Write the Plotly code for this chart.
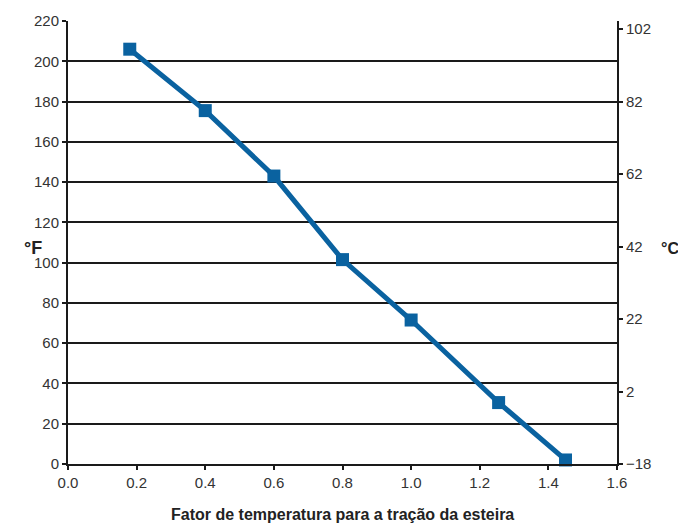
import plotly.graph_objects as go

# fator de temperatura vs temperatura (°F)
fator = [0.18, 0.40, 0.60, 0.80, 1.00, 1.255, 1.45]
temp_f = [206, 175.5, 143, 101.5, 71.5, 30.5, 2]

f_ticks = list(range(0, 221, 20))
c_ticks = [-18, 2, 22, 42, 62, 82, 102]
x_ticks = [0.0, 0.2, 0.4, 0.6, 0.8, 1.0, 1.2, 1.4, 1.6]

blue = '#0a62a0'
tick_font = dict(family='Liberation Sans, Arial, sans-serif', size=15, color='#333333')
narrow = 'Liberation Sans Narrow, Arial Narrow, sans-serif'

fig = go.Figure()
fig.add_trace(go.Scatter(
    x=fator, y=temp_f, mode='lines+markers',
    line=dict(color=blue, width=5),
    marker=dict(symbol='square', size=13, color=blue),
    showlegend=False, cliponaxis=False
))
# invisible trace to keep the °C axis alive
fig.add_trace(go.Scatter(x=[0], y=[0], yaxis='y2', mode='markers',
                         marker=dict(opacity=0), showlegend=False, hoverinfo='skip'))

fig.update_layout(
    width=678, height=526,
    margin=dict(l=68, r=61, t=18, b=62),
    paper_bgcolor='white', plot_bgcolor='white',
    xaxis=dict(range=[0, 1.6], tickvals=x_ticks, tickformat='.1f',
               showgrid=False, zeroline=False,
               showline=True, linecolor='#1a1a1a', linewidth=2,
               ticks='outside', ticklen=4, tickwidth=2, tickcolor='#1a1a1a',
               tickfont=tick_font),
    yaxis=dict(range=[0, 220], tickvals=f_ticks,
               showgrid=True, gridcolor='#1a1a1a', gridwidth=2,
               zeroline=False, showline=True, linecolor='#1a1a1a', linewidth=2,
               ticks='outside', ticklen=4, tickwidth=2, tickcolor='#1a1a1a',
               tickfont=tick_font, mirror=False),
    yaxis2=dict(range=[-18, 104.22], tickvals=c_ticks, overlaying='y', side='right',
                showgrid=False, zeroline=False,
                showline=True, linecolor='#1a1a1a', linewidth=2,
                ticks='outside', ticklen=4, tickwidth=2, tickcolor='#1a1a1a',
                tickfont=tick_font),
    annotations=[
        dict(text='<b>Fator de temperatura para a tração da esteira</b>',
             xref='paper', yref='paper', x=0.5, y=-0.114, yanchor='middle', showarrow=False,
             font=dict(family=narrow, size=16, color='#222222')),
        dict(text='<b>°F</b>', xref='paper', yref='paper', x=-0.084, y=0.487,
             xanchor='left', yanchor='middle',
             showarrow=False, font=dict(family=narrow, size=18, color='#222222')),
        dict(text='<b>°C</b>', xref='paper', yref='paper', x=1.076, y=0.487,
             xanchor='left', yanchor='middle',
             showarrow=False, font=dict(family=narrow, size=16, color='#222222')),
    ]
)

# drop the default body margin so the figure sits at the page corner
fig.write_html('out.html', config={'displayModeBar': False},
               post_script="document.body.style.margin='0';")
